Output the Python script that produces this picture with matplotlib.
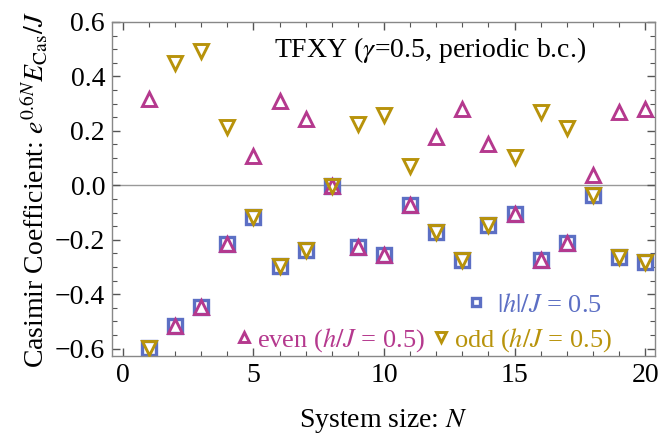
import matplotlib

matplotlib.use("Agg")
import matplotlib.pyplot as plt
from matplotlib.ticker import MultipleLocator

# Casimir coefficient per system size N
sizes = list(range(1, 21))
even_vals = [0.318, -0.515, -0.447, -0.216, 0.108, 0.308, 0.245, -0.002, -0.226, -0.255,
             -0.071, 0.177, 0.281, 0.153, -0.106, -0.274, -0.212, 0.037, 0.269, 0.281]
odd_vals = [-0.599, 0.450, 0.495, 0.214, -0.115, -0.296, -0.237, -0.002, 0.224, 0.257,
            0.071, -0.172, -0.274, -0.146, 0.104, 0.271, 0.210, -0.034, -0.264, -0.280]
abs_h_vals = [-0.599, -0.515, -0.447, -0.216, -0.115, -0.296, -0.237, -0.002, -0.226, -0.255,
              -0.071, -0.172, -0.274, -0.146, -0.106, -0.274, -0.212, -0.034, -0.264, -0.280]

BLUE = "#5c6fc4"
MAGENTA = "#b5398e"
GOLD = "#b8930b"
FS = 20
LFS = 19

plt.rcParams["font.family"] = ["Liberation Serif", "DejaVu Serif"]
plt.rcParams["mathtext.fontset"] = "stix"
plt.rcParams["font.size"] = FS

fig = plt.figure(figsize=(6.6, 4.43), dpi=100)
ax = fig.add_axes([112 / 660, 1 - 356 / 443, (655 - 112) / 660, (356 - 22) / 443])

ax.axhline(0.0, color="#999999", lw=1.0, zorder=1)

sq, = ax.plot(sizes, abs_h_vals, ls="none", marker="s", ms=9.5, mfc="white",
              mec=BLUE, mew=2.4, zorder=2, label=r"$|h|/J$ = 0.5")
ev, = ax.plot(sizes, even_vals, ls="none", marker="^", ms=10.5, mfc="none",
              mec=MAGENTA, mew=2.1, zorder=3, label=r"even ($h/J$ = 0.5)")
od, = ax.plot(sizes, odd_vals, ls="none", marker="v", ms=10.5, mfc="none",
              mec=GOLD, mew=2.1, zorder=4, label=r"odd ($h/J$ = 0.5)")

ax.set_xlim(-0.42, 20.38)
ax.set_ylim(-0.627, 0.6)
ax.xaxis.set_major_locator(MultipleLocator(5))
ax.xaxis.set_minor_locator(MultipleLocator(1))
ax.yaxis.set_major_locator(MultipleLocator(0.2))
ax.yaxis.set_minor_locator(MultipleLocator(0.05))
ax.yaxis.set_major_formatter(
    matplotlib.ticker.FuncFormatter(lambda v, _: f"{v:.1f}".replace("-", "\u2212")))
ax.tick_params(which="both", direction="in", top=True, right=True, color="#555555",
               labelsize=FS)
ax.tick_params(which="major", length=6, width=1.0, pad=5)
ax.tick_params(which="minor", length=3.5, width=0.8)
for s in ax.spines.values():
    s.set_color("#888888")
    s.set_linewidth(1.0)

ax.set_xlabel(r"System size: $N$", fontsize=FS, labelpad=14)
ax.set_ylabel(r"Casimir Coefficient: $e^{0.6N}E_{\mathrm{Cas}}/J$", fontsize=FS, labelpad=3)

ax.text(0.585, 0.916, r"TFXY ($\gamma$=0.5, periodic b.c.)", transform=ax.transAxes,
        ha="center", va="center", fontsize=FS)

leg1 = ax.legend(handles=[sq], loc="center right", bbox_to_anchor=(0.926, 0.153),
                 frameon=False, handlelength=0.6, handletextpad=0.5, markerscale=0.65,
                 borderpad=0.0, labelcolor=[BLUE], fontsize=LFS)
ax.add_artist(leg1)
ax.legend(handles=[ev, od], loc="center right", bbox_to_anchor=(0.945, 0.048), ncol=2,
          frameon=False, handlelength=0.6, handletextpad=0.2, columnspacing=0.3,
          markerscale=0.65, borderpad=0.0, labelcolor=[MAGENTA, GOLD], fontsize=LFS)

fig.savefig("out.png", dpi=100)
